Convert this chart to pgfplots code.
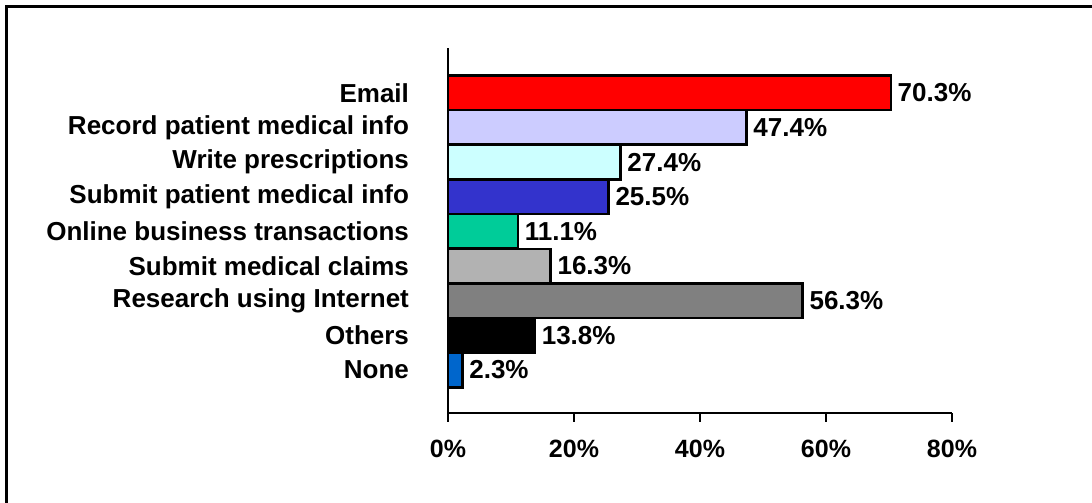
\documentclass[border=0pt]{standalone}
\usepackage{pgfplots}
\pgfplotsset{compat=1.18}
\usepackage{fontspec}
\setmainfont{Liberation Sans}
\definecolor{cEmail}{HTML}{FF0000}
\definecolor{cRecord}{HTML}{CCCCFF}
\definecolor{cWrite}{HTML}{CCFFFF}
\definecolor{cSubmit}{HTML}{3333CC}
\definecolor{cOnline}{HTML}{00CC99}
\definecolor{cClaims}{HTML}{B2B2B2}
\definecolor{cResearch}{HTML}{808080}
\definecolor{cOthers}{HTML}{000000}
\definecolor{cNone}{HTML}{0066CC}
\begin{document}
\begin{tikzpicture}
\path[use as bounding box] (0,0) rectangle (546pt,251.5pt);
\draw[line width=1.3pt] (3.3pt,0) -- (3.3pt,248.2pt) -- (546pt,248.2pt);
\begin{axis}[
  at={(224pt,45pt)}, anchor=south west,
  scale only axis, width=252pt, height=182.5pt,
  xmin=0, xmax=80, ymin=-1.24, ymax=9.29,
  axis x line=bottom, axis y line=left,
  axis line style={-, line width=1.2pt, black},
  xbar, bar width=17.3pt, bar shift=0pt,
  xtick={0,20,40,60,80},
  xticklabel={\pgfmathprintnumber{\tick}\%},
  tick align=outside,
  major tick length=4.5pt,
  x tick style={line width=1.2pt, black},
  ytick={0,1,2,3,4,5,6,7,8},
  yticklabels={None,Others,Research using Internet,Submit medical claims,Online business transactions,Submit patient medical info,Write prescriptions,Record patient medical info,Email},
  y tick style={draw=none},
  /pgf/number format/assume math mode=true,
  xticklabel style={font=\fontsize{12.5}{14}\selectfont\bfseries, yshift=-5.5pt},
  yticklabel style={font=\fontsize{13}{15}\selectfont\bfseries, xshift=-11.5pt},
  nodes near coords={\pgfmathprintnumber[fixed,precision=1,fixed zerofill]{\pgfplotspointmeta}\%},
  nodes near coords style={font=\fontsize{13}{15}\selectfont\bfseries, anchor=west, xshift=-0.5pt},
  every axis plot/.append style={draw=black, line width=1.2pt},
  clip=false,
]
\addplot[fill=cEmail] coordinates {(70.3,8)};
\addplot[fill=cRecord] coordinates {(47.4,7)};
\addplot[fill=cWrite] coordinates {(27.4,6)};
\addplot[fill=cSubmit] coordinates {(25.5,5)};
\addplot[fill=cOnline] coordinates {(11.1,4)};
\addplot[fill=cClaims] coordinates {(16.3,3)};
\addplot[fill=cResearch] coordinates {(56.3,2)};
\addplot[fill=cOthers] coordinates {(13.8,1)};
\addplot[fill=cNone] coordinates {(2.3,0)};
\end{axis}
\end{tikzpicture}
\end{document}
